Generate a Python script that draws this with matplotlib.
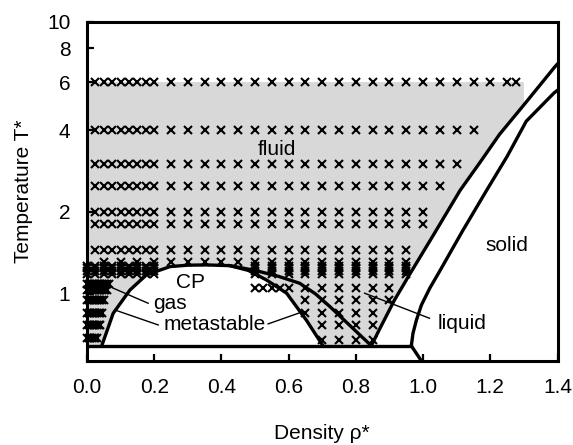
import numpy as np
import matplotlib
matplotlib.use("Agg")
import matplotlib.pyplot as plt
from matplotlib.ticker import FixedLocator, FixedFormatter, NullLocator

plt.rcParams['font.family'] = ['Liberation Sans', 'DejaVu Sans']

# Axis range and triple-point temperature
T_MIN, T_MAX = 0.567, 10.0
T_TRIPLE = 0.645

# Spinodal dome (unstable region, white)
spin_rho = [0.044, 0.078, 0.128, 0.177, 0.247, 0.30, 0.356, 0.425, 0.48, 0.534, 0.594, 0.653, 0.702]
spin_T = [0.645, 0.849, 1.034, 1.175, 1.26, 1.275, 1.278, 1.27, 1.22, 1.125, 1.006, 0.80, 0.645]

# Liquid branch of the binodal
bin_rho = [0.425, 0.50, 0.57, 0.633, 0.68, 0.722, 0.78, 0.846]
bin_T = [1.27, 1.22, 1.16, 1.094, 1.0, 0.90, 0.77, 0.645]

# Freezing line (fluid side) and melting line (solid side)
freeze_rho = [0.846, 0.87, 0.915, 0.96, 1.03, 1.11, 1.17, 1.227, 1.30, 1.39, 1.40]
freeze_T = [0.645, 0.74, 0.95, 1.18, 1.64, 2.40, 3.05, 3.85, 4.95, 6.78, 7.0]
melt_rho = [0.965, 0.970, 0.98, 0.995, 1.02, 1.049, 1.117, 1.188, 1.25, 1.307, 1.39, 1.40]
melt_T = [0.645, 0.717, 0.80, 0.91, 1.05, 1.21, 1.70, 2.39, 3.2, 4.31, 5.48, 5.6]
melt_low_rho = [0.965, 0.995]
melt_low_T = [T_TRIPLE, T_MIN]

# Upper edge and right edge of the shaded fluid region
FLUID_T_TOP = 6.0
FLUID_RHO_RIGHT = 1.30

# Simulation state points
rho_dense = [0.025, 0.05, 0.075, 0.10, 0.125, 0.15, 0.175, 0.20]
rho_sparse = [0.25, 0.30, 0.35, 0.40, 0.45, 0.50, 0.55, 0.60, 0.65, 0.70, 0.75,
              0.80, 0.85, 0.90, 0.95, 1.00, 1.05, 1.10, 1.15, 1.20, 1.25, 1.275]
row_T = [6.0, 4.0, 3.0, 2.5, 2.0, 1.8, 1.45]
row_rho_max = [1.275, 1.15, 1.10, 1.05, 1.00, 1.00, 0.95]

# Near-critical band
band_top_T = 1.31
band_top_rho = [0.05, 0.10, 0.15, 0.20, 0.25, 0.30, 0.35, 0.40, 0.45, 0.50, 0.55,
                0.60, 0.65, 0.70, 0.75, 0.80, 0.85, 0.90, 0.95]
band_T = [1.18, 1.21, 1.24, 1.27]
band_rho = [0.0, 0.025, 0.05, 0.075, 0.10, 0.125, 0.15, 0.175, 0.20,
            0.50, 0.55, 0.60, 0.65, 0.70, 0.75, 0.80, 0.85, 0.90, 0.95]

# Liquid-side state points below the band
liq_T = [1.05, 0.95, 0.85, 0.77, 0.68]
liq_rho = [
    [0.50, 0.525, 0.55, 0.575, 0.60, 0.65, 0.70, 0.75, 0.80, 0.85, 0.90],
    [0.65, 0.70, 0.75, 0.80, 0.85, 0.90],
    [0.65, 0.70, 0.75, 0.80, 0.85],
    [0.70, 0.75, 0.80, 0.85],
    [0.70, 0.75, 0.80, 0.85],
]

# Gas-side state points near zero density
gas_T = [1.09, 1.03, 0.95, 0.85, 0.77, 0.69]
gas_rho_all = [0.0, 0.005, 0.01, 0.015, 0.02, 0.025, 0.03, 0.035, 0.04,
               0.045, 0.05, 0.055, 0.06, 0.065]
gas_rho_max = [0.065, 0.06, 0.05, 0.045, 0.04, 0.03]

fig = plt.figure(figsize=(5.73, 4.45), dpi=100)
ax = fig.add_axes([0.1518, 0.1888, 0.8212, 0.7624])
ax.set_yscale('log')
ax.set_xlim(0, 1.4)
ax.set_ylim(T_MIN, T_MAX)

GRAY = '#d8d8d8'

# Shaded fluid region
fr = [(r, t) for r, t in zip(freeze_rho, freeze_T) if r <= FLUID_RHO_RIGHT]
poly = [(0.0, FLUID_T_TOP), (FLUID_RHO_RIGHT, FLUID_T_TOP)]
poly += list(reversed(fr))
poly += [(0.0, T_TRIPLE)]
ax.add_patch(plt.Polygon(poly, closed=True, facecolor=GRAY, edgecolor='none', zorder=1))
# Unstable region
ax.add_patch(plt.Polygon(list(zip(spin_rho, spin_T)), closed=True,
                         facecolor='white', edgecolor='none', zorder=2))

mk = dict(marker='x', color='black', linestyle='none', markersize=6.2,
          markeredgewidth=1.5, zorder=3, clip_on=False)

for t, rmax in zip(row_T, row_rho_max):
    xs = rho_dense + [r for r in rho_sparse if r <= rmax + 1e-9]
    ax.plot(xs, [t] * len(xs), **mk)

ax.plot(band_top_rho, [band_top_T] * len(band_top_rho), **mk)
for t in band_T:
    ax.plot(band_rho, [t] * len(band_rho), **mk)

for t, xs in zip(liq_T, liq_rho):
    ax.plot(xs, [t] * len(xs), **mk)

for t, rmax in zip(gas_T, gas_rho_max):
    xs = [r for r in gas_rho_all if r <= rmax + 1e-9]
    ax.plot(xs, [t] * len(xs), **mk)

# Phase boundaries
LW = 2.4
ax.plot(spin_rho, spin_T, color='black', lw=LW, zorder=4)
ax.plot(bin_rho, bin_T, color='black', lw=LW, zorder=4)
ax.plot(freeze_rho, freeze_T, color='black', lw=LW, zorder=4)
ax.plot(melt_rho, melt_T, color='black', lw=LW, zorder=4)
ax.plot(melt_low_rho, melt_low_T, color='black', lw=LW, zorder=4)
ax.plot([0.0, melt_rho[0]], [T_TRIPLE, T_TRIPLE], color='black', lw=LW, zorder=4)

# Region labels and leader lines
FS = 15
ax.text(0.565, 3.38, 'fluid', fontsize=FS, ha='center', va='center', zorder=5)
ax.text(1.248, 1.50, 'solid', fontsize=FS, ha='center', va='center', zorder=5)
ax.text(1.117, 0.78, 'liquid', fontsize=FS, ha='center', va='center', zorder=5)
ax.text(0.309, 1.104, 'CP', fontsize=FS, ha='center', va='center', zorder=5)
ax.text(0.247, 0.924, 'gas', fontsize=FS, ha='center', va='center', zorder=5)
ax.text(0.38, 0.774, 'metastable', fontsize=FS, ha='center', va='center', zorder=5)

lk = dict(color='black', lw=1.0, zorder=5)
ax.plot([0.182, 0.078], [0.924, 1.05], **lk)
ax.plot([0.212, 0.083], [0.769, 0.873], **lk)
ax.plot([0.539, 0.643], [0.776, 0.861], **lk)
ax.plot([1.019, 0.826], [0.814, 1.006], **lk)

# Axes styling
for s in ax.spines.values():
    s.set_linewidth(2.2)
    s.set_zorder(6)

ax.xaxis.set_major_locator(FixedLocator([0.0, 0.2, 0.4, 0.6, 0.8, 1.0, 1.2, 1.4]))
ax.xaxis.set_major_formatter(FixedFormatter(['0.0', '0.2', '0.4', '0.6', '0.8', '1.0', '1.2', '1.4']))
ax.yaxis.set_major_locator(FixedLocator([1, 2, 4, 6, 8, 10]))
ax.yaxis.set_major_formatter(FixedFormatter(['1', '2', '4', '6', '8', '10']))
ax.yaxis.set_minor_locator(NullLocator())
ax.tick_params(axis='both', direction='in', length=5, width=1.6, labelsize=FS)
ax.tick_params(axis='x', pad=12)
ax.tick_params(axis='y', pad=12)

ax.set_xlabel('Density ρ*', fontsize=FS, labelpad=20)
ax.set_ylabel('Temperature T*', fontsize=FS, labelpad=10)

fig.savefig('out.png', dpi=100)
